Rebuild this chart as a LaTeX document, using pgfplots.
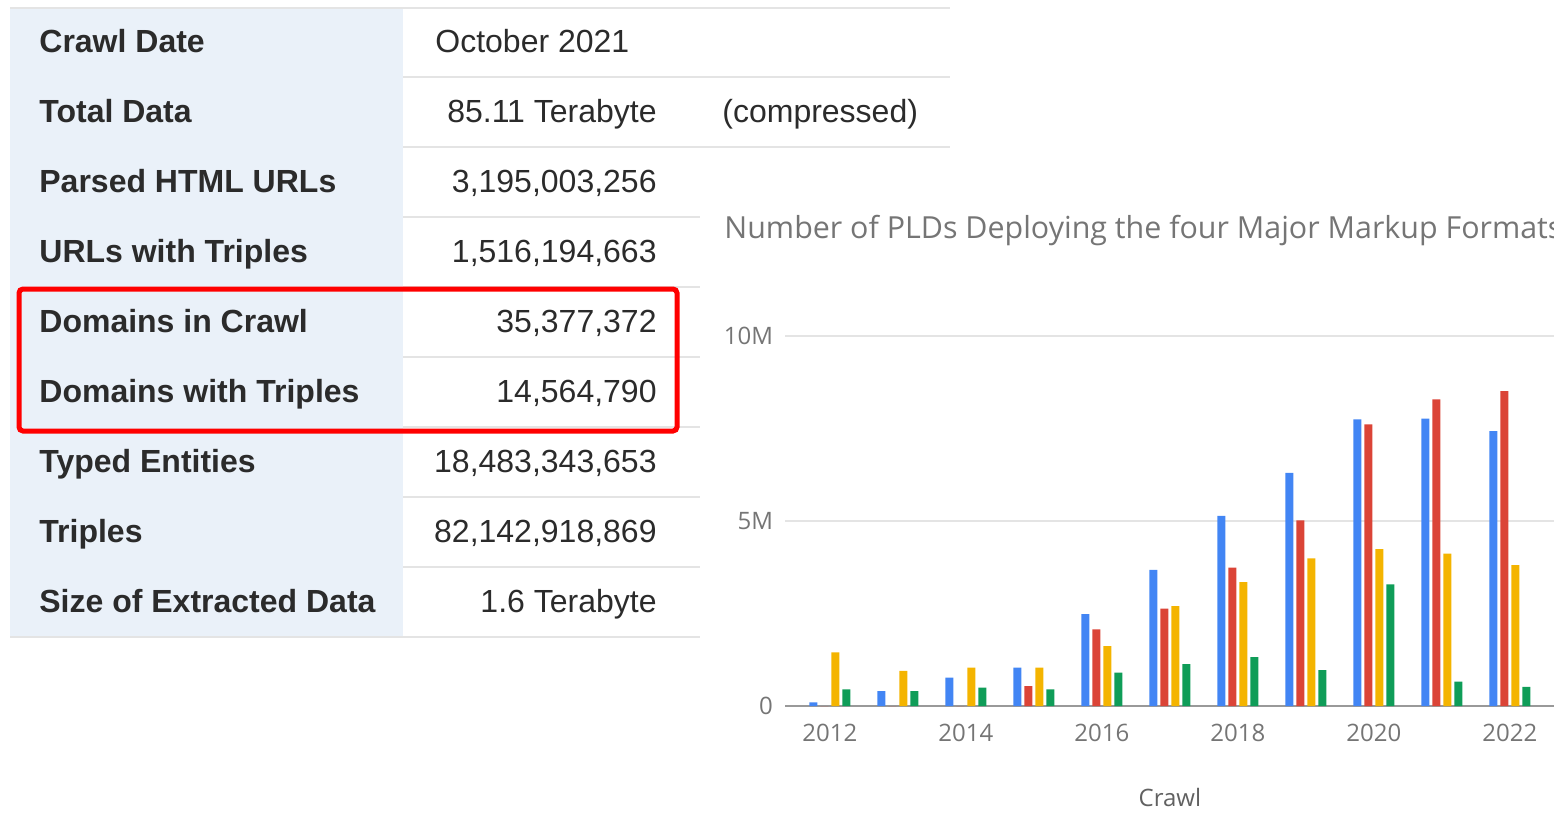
\documentclass[border=0pt]{standalone}
\usepackage{fontspec}
\setmainfont{Liberation Sans}
\newfontfamily\chartfont{Open Sans}
\usepackage{pgfplots}
\pgfplotsset{compat=1.18}
\usepackage{pgfplotstable}

\definecolor{gblue}{HTML}{4285F4}
\definecolor{gred}{HTML}{DB4437}
\definecolor{gyellow}{HTML}{F4B400}
\definecolor{ggreen}{HTML}{0F9D58}
\definecolor{labelgray}{HTML}{757575}
\definecolor{rowline}{HTML}{E4E4E4}
\definecolor{keyblue}{HTML}{EAF1F9}
\definecolor{txt}{HTML}{2B2B2B}

% PLDs per markup format, in millions
\pgfplotstableread{
year blue red yellow green
2012 0.10 0.00 1.45 0.45
2013 0.40 0.00 0.95 0.40
2014 0.77 0.00 1.04 0.50
2015 1.04 0.54 1.04 0.45
2016 2.48 2.07 1.62 0.90
2017 3.68 2.63 2.70 1.13
2018 5.14 3.74 3.35 1.32
2019 6.30 5.02 3.99 0.97
2020 7.75 7.61 4.24 3.29
2021 7.77 8.29 4.12 0.66
2022 7.43 8.51 3.81 0.52
}\pldtable

\begin{document}
\begin{tikzpicture}
\useasboundingbox (0pt,0pt) rectangle (777pt,-409.5pt);
\clip (0pt,0pt) rectangle (777pt,-409.5pt);

\begin{scope}[x=0.5pt,y=-0.5pt]
% table
\fill[keyblue] (10,9) rectangle (403,636);
\draw[rowline, line width=1pt] (10,8) -- (950,8);
\foreach \yy in {77,147} \draw[rowline, line width=1pt] (403,\yy) -- (950,\yy);
\foreach \yy in {217,287,357,427,497,567} \draw[rowline, line width=1pt] (403,\yy) -- (700,\yy);
\draw[rowline, line width=1pt] (10,637) -- (700,637);

\foreach \i/\lab in {0/Crawl Date, 1/Total Data, 2/Parsed HTML URLs, 3/URLs with Triples,
  4/Domains in Crawl, 5/Domains with Triples, 6/Typed Entities, 7/Triples,
  8/Size of Extracted Data}
  \node[anchor=base west, inner sep=0, text=txt, font=\bfseries\fontsize{16}{19}\selectfont]
    at (39,{52.5+70*\i}) {\lab};

\node[anchor=base west, inner sep=0, text=txt, font=\fontsize{16}{19}\selectfont]
  at (435,52.5) {October 2021};
\foreach \i/\val in {1/85.11 Terabyte, 2/{3,195,003,256}, 3/{1,516,194,663},
  4/{35,377,372}, 5/{14,564,790}, 6/{18,483,343,653}, 7/{82,142,918,869},
  8/1.6 Terabyte}
  \node[anchor=base east, inner sep=0, text=txt, font=\fontsize{16}{19}\selectfont]
    at (657,{52.5+70*\i}) {\val};
\node[anchor=base west, inner sep=0, text=txt, font=\fontsize{16}{19}\selectfont]
  at (722,122.5) {(compressed)};

\draw[red, line width=2.5pt, rounded corners=2pt] (19,289) rectangle (677,431);

% chart title
\node[anchor=west, inner sep=0, text=labelgray, font=\chartfont\fontsize{15.2}{18}\selectfont]
  at (724,231) {Number of PLDs Deploying the four Major Markup Formats};
\end{scope}

\begin{axis}[
  at={(392.5pt,-353pt)}, anchor=south west,
  width=384.88pt, height=196.1pt, scale only axis,
  xmin=2011.34, xmax=2022.66, ymin=0, ymax=10.6,
  ybar=1.5pt, bar width=4pt,
  axis line style={draw=none},
  major tick length=0pt,
  xtick={2012,2014,...,2022}, xticklabels={2012,2014,2016,2018,2020,2022},
  ytick={0,5,10}, yticklabels={0,5M,10M},
  ymajorgrids, grid style={rowline, line width=1pt},
  extra y ticks={0}, extra y tick labels={},
  extra y tick style={grid style={draw=black!40, line width=1pt}},
  tick label style={font=\chartfont\fontsize{12}{14}\selectfont, text=labelgray},
  xticklabel style={yshift=-5.5pt},
  yticklabel style={xshift=-2.5pt},
  xlabel={Crawl},
  xlabel style={at={(axis description cs:0.5,0)}, anchor=center, yshift=-45.5pt,
    font=\chartfont\fontsize{12}{14}\selectfont, text=black!62},
  clip=false,
]
\addplot[fill=gblue, draw=none] table[x=year, y=blue] {\pldtable};
\addplot[fill=gred, draw=none] table[x=year, y=red] {\pldtable};
\addplot[fill=gyellow, draw=none] table[x=year, y=yellow] {\pldtable};
\addplot[fill=ggreen, draw=none] table[x=year, y=green] {\pldtable};
\end{axis}
\end{tikzpicture}
\end{document}
